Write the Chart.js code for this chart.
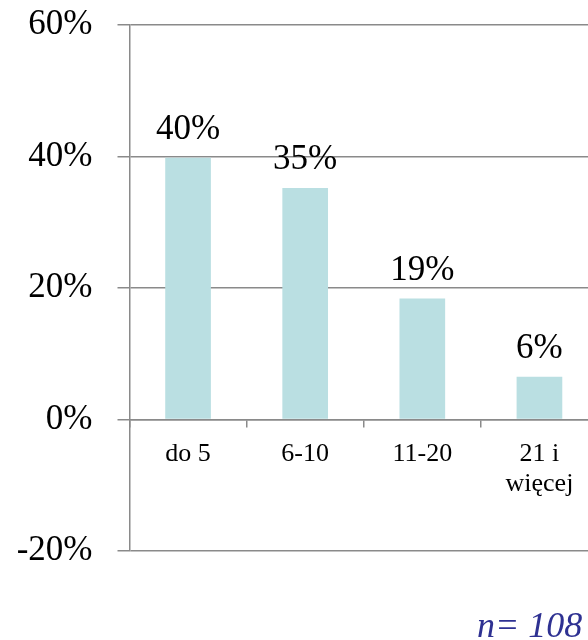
<!DOCTYPE html>
<html lang="pl">
<head>
    <meta charset="UTF-8">
    <title>Wykres</title>
    <script src="https://cdn.jsdelivr.net/npm/chart.js"></script>
    <style>
        html, body { margin: 0; padding: 0; overflow: hidden; background: #fff; }
        canvas { display: block; }
    </style>
</head>
<body>
    <canvas id="barChart" width="598" height="640"></canvas>
    <script>
        // dane (n = 108)
        const categories = ['do 5', '6-10', '11-20', ['21 i', 'więcej']];
        const shares = [39.8, 35.2, 18.4, 6.5];
        const shareLabels = ['40%', '35%', '19%', '6%'];
        const yTicks = [-20, 0, 20, 40, 60];
        const sampleNote = 'n= 108';

        const serif = "'Liberation Serif', 'Times New Roman', serif";
        const gridGrey = '#8a8a8a';

        // etykiety nad słupkami
        const valueLabels = {
            id: 'valueLabels',
            afterDatasetsDraw(chart) {
                const ctx = chart.ctx;
                const meta = chart.getDatasetMeta(0);
                ctx.save();
                ctx.font = '35px ' + serif;
                ctx.fillStyle = '#000';
                ctx.textAlign = 'center';
                ctx.textBaseline = 'alphabetic';
                meta.data.forEach((bar, i) => {
                    ctx.fillText(shareLabels[i], bar.x, bar.y - 19);
                });
                ctx.restore();
            }
        };

        // podpis z liczebnością próby
        const noteLabel = {
            id: 'noteLabel',
            afterDraw(chart) {
                const ctx = chart.ctx;
                ctx.save();
                ctx.font = 'italic 36px ' + serif;
                ctx.fillStyle = '#2e3192';
                ctx.textAlign = 'left';
                ctx.textBaseline = 'alphabetic';
                ctx.fillText(sampleNote, 477, 637);
                ctx.restore();
            }
        };

        const ctx = document.getElementById('barChart').getContext('2d');
        new Chart(ctx, {
            type: 'bar',
            data: {
                labels: categories,
                datasets: [{
                    data: shares,
                    backgroundColor: '#badfe2',
                    borderWidth: 0,
                    categoryPercentage: 1,
                    barPercentage: 0.39
                }]
            },
            options: {
                responsive: false,
                animation: false,
                layout: { padding: { top: 25, bottom: 89, left: 0, right: 0 } },
                plugins: {
                    legend: { display: false },
                    tooltip: { enabled: false }
                },
                scales: {
                    x: {
                        position: { y: 0 },
                        offset: true,
                        afterFit(scale) { scale.height = 0; scale.paddingLeft = 0; scale.paddingRight = 0; },
                        grid: {
                            offset: true,
                            drawOnChartArea: false,
                            drawTicks: true,
                            tickLength: 7,
                            color: gridGrey,
                            lineWidth: 1.5
                        },
                        border: { display: true, color: gridGrey, width: 1.5 },
                        ticks: {
                            color: '#000',
                            font: { family: serif, size: 26, lineHeight: 1.15 },
                            padding: 13,
                            maxRotation: 0,
                            autoSkip: false
                        }
                    },
                    y: {
                        min: -20,
                        max: 60,
                        afterFit(scale) {
                            scale.width = 129.5;
                            scale.paddingTop = 0;
                            scale.paddingBottom = 0;
                        },
                        afterBuildTicks(scale) {
                            scale.ticks = yTicks.map(v => ({ value: v }));
                        },
                        grid: {
                            color: gridGrey,
                            lineWidth: 1.5,
                            drawTicks: true,
                            tickLength: 12
                        },
                        border: { display: true, color: gridGrey, width: 1.5 },
                        ticks: {
                            color: '#000',
                            font: { family: serif, size: 35 },
                            padding: 25,
                            callback: v => v + '%'
                        }
                    }
                }
            },
            plugins: [valueLabels, noteLabel]
        });
    </script>
</body>
</html>
